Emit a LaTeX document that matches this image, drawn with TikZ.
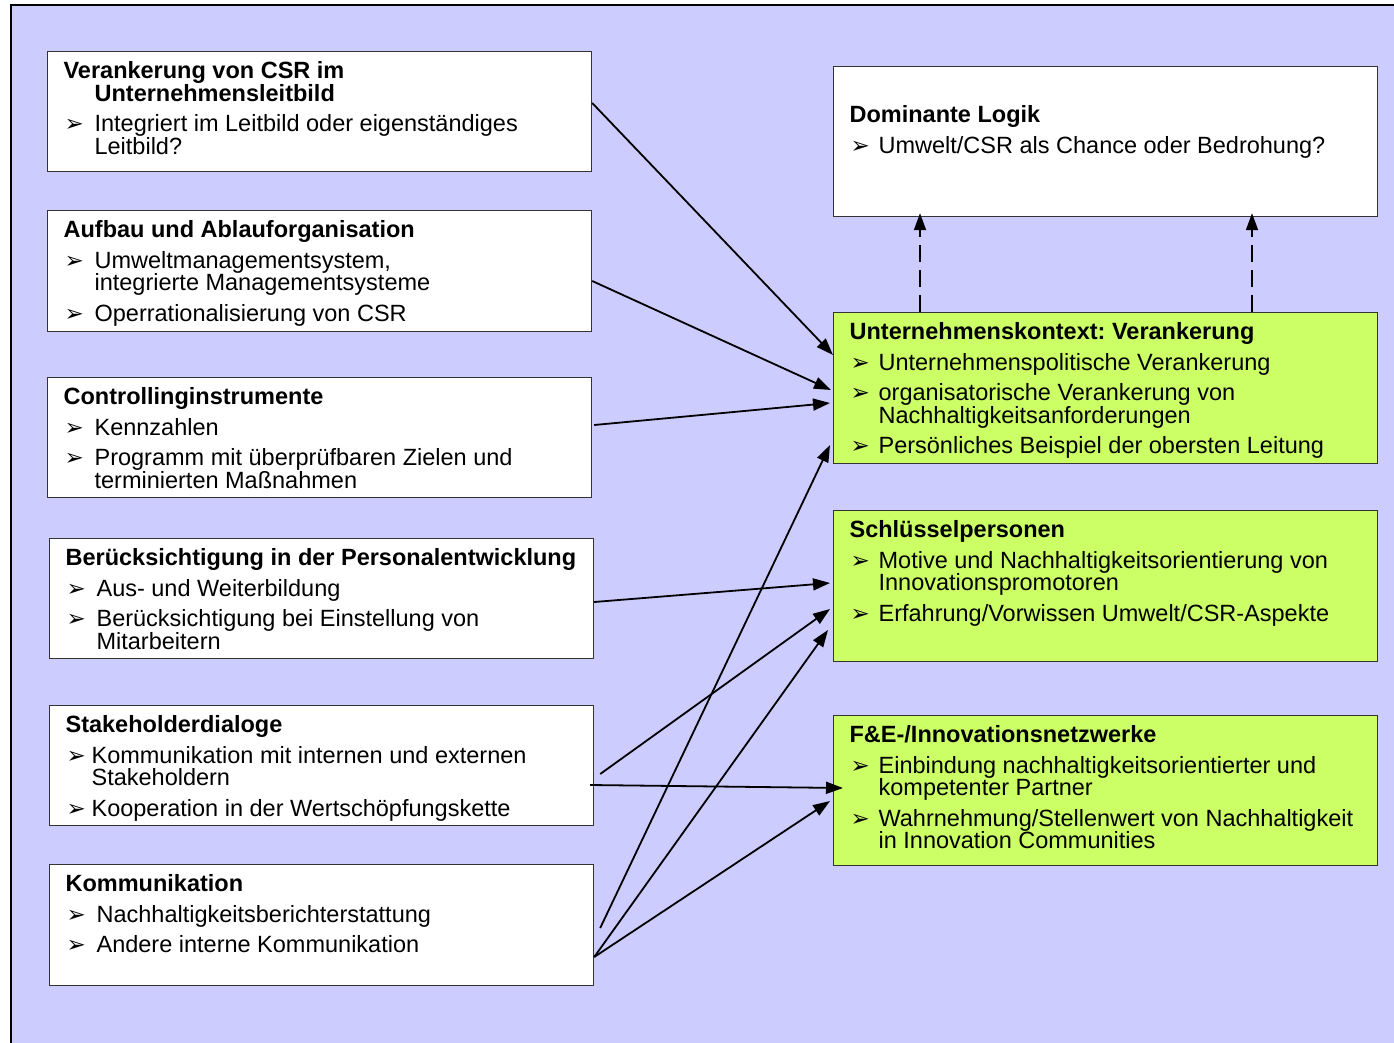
\documentclass[tikz,border=0pt]{standalone}
\usepackage{fontspec}
\setmainfont{Liberation Sans}
\newfontfamily\symfont{DejaVu Sans}
\usepackage{xcolor}
\usepackage{tikz}
\usetikzlibrary{arrows.meta}

\definecolor{lavender}{HTML}{CCCCFF}
\definecolor{limegreen}{HTML}{CCFF66}

\newlength{\hang}
\newcommand{\bul}{{\symfont\fontsize{23}{23}\selectfont ➢}}
% box content: [hanging indent]{height}{text}
\newcommand{\boxtext}[3][31pt]{\makebox[512pt][l]{\parbox[c][#2][t]{600pt}{%
    \setlength{\hang}{#1}\fontsize{23.5}{22.5}\selectfont\frenchspacing
    \setlength{\parskip}{8pt}\raggedright #3}}}
\newcommand{\hd}[2][19pt]{\hangindent=\hang\hangafter=1\rule{0pt}{#1}\textbf{#2}\par}
\newcommand{\itm}[1]{\hangindent=\hang\hangafter=1\makebox[\hang][l]{\hspace{1pt}\bul}#1\par}

\begin{document}
\begin{tikzpicture}[x=1pt,y=-1pt,
    leftbox/.style={rectangle, draw=black!80, line width=1.2pt, fill=white, inner xsep=16pt, inner ysep=8pt, anchor=north west},
    rightbox/.style={leftbox, fill=limegreen},
    link/.style={line width=1.8pt, -{Triangle[length=17pt,width=12pt]}},
    dashlink/.style={link, dash pattern=on 17pt off 8pt}]
    \clip (0,0) rectangle (1394,1043);
    \fill[lavender] (11,5) rectangle (1420,1060);
    \draw[line width=2pt] (11,1060) -- (11,5) -- (1420,5);

    % left column
    \node(leitbild) [leftbox] at (47,51) {\boxtext{104pt}{
        \hd{Verankerung von CSR im\newline Unternehmensleitbild}
        \itm{Integriert im Leitbild oder eigenständiges\newline Leitbild?}}};
    \node(aufbau) [leftbox] at (47,210) {\boxtext{105pt}{
        \hd{Aufbau und Ablauforganisation}
        \itm{Umweltmanagementsystem,\newline integrierte Managementsysteme}
        \itm{Operrationalisierung von CSR}}};
    \node(controlling) [leftbox] at (47,377) {\boxtext{104pt}{
        \hd{Controllinginstrumente}
        \itm{Kennzahlen}
        \itm{Programm mit überprüfbaren Zielen und\newline terminierten Maßnahmen}}};
    \node(personal) [leftbox] at (49,538) {\boxtext{104pt}{
        \hd{Berücksichtigung in der Personalentwicklung}
        \itm{Aus- und Weiterbildung}
        \itm{Berücksichtigung bei Einstellung von\newline Mitarbeitern}}};
    \node(stakeholder) [leftbox] at (49,705) {\boxtext[26pt]{104pt}{
        \hd{Stakeholderdialoge}
        \itm{Kommunikation mit internen und externen\newline Stakeholdern}
        \itm{Kooperation in der Wertschöpfungskette}}};
    \node(kommunikation) [leftbox] at (49,864) {\boxtext{105pt}{
        \hd{Kommunikation}
        \itm{Nachhaltigkeitsberichterstattung}
        \itm{Andere interne Kommunikation}}};

    % right column
    \node(logik) [leftbox] at (833,66) {\boxtext[29pt]{134pt}{
        \hd[48pt]{Dominante Logik}
        \itm{Umwelt/CSR als Chance oder Bedrohung?}}};
    \node(kontext) [rightbox] at (833,312) {\boxtext[29pt]{135pt}{
        \hd{Unternehmenskontext: Verankerung}
        \itm{Unternehmenspolitische Verankerung}
        \itm{organisatorische Verankerung von\newline Nachhaltigkeitsanforderungen}
        \itm{Persönliches Beispiel der obersten Leitung}}};
    \node(schluessel) [rightbox] at (833,510) {\boxtext[29pt]{135pt}{
        \hd{Schlüsselpersonen}
        \itm{Motive und Nachhaltigkeitsorientierung von\newline Innovationspromotoren}
        \itm{Erfahrung/Vorwissen Umwelt/CSR-Aspekte}}};
    \node(netzwerk) [rightbox] at (833,715) {\boxtext[29pt]{134pt}{
        \hd{F\&E-/Innovationsnetzwerke}
        \itm{Einbindung nachhaltigkeitsorientierter und\newline kompetenter Partner}
        \itm{Wahrnehmung/Stellenwert von Nachhaltigkeit\newline in Innovation Communities}}};

    % connectors
    \draw[link] ([yshift=-52pt]leitbild.north east) -- ([yshift=-43pt]kontext.north west);
    \draw[link] ([yshift=-71pt]aufbau.north east) -- ([xshift=-2pt,yshift=-78pt]kontext.north west);
    \draw[link] ([xshift=2pt,yshift=-48pt]controlling.north east) -- ([xshift=-3pt,yshift=-91pt]kontext.north west);
    \draw[link] ([yshift=-64pt]personal.north east) -- ([xshift=-3pt,yshift=-73pt]schluessel.north west);
    \draw[link] ([xshift=6pt,yshift=-69pt]stakeholder.north east) -- ([xshift=-3pt,yshift=-99pt]schluessel.north west);
    \draw[link] ([xshift=-4pt,yshift=-80pt]stakeholder.north east) -- ([xshift=10pt,yshift=-73pt]netzwerk.north west);
    \draw[link] ([xshift=6pt,yshift=-64pt]kommunikation.north east) -- ([xshift=-3pt,yshift=-133pt]kontext.north west);
    \draw[link] ([yshift=-93pt]kommunikation.north east) -- ([xshift=-5pt,yshift=-120pt]schluessel.north west);
    \draw[link] ([yshift=-93pt]kommunikation.north east) -- ([xshift=-3pt,yshift=-86pt]netzwerk.north west);
    \draw[dashlink] ([xshift=87pt]kontext.north west) -- ([xshift=87pt,yshift=4pt]logik.south west);
    \draw[dashlink] ([xshift=419pt]kontext.north west) -- ([xshift=419pt,yshift=4pt]logik.south west);
\end{tikzpicture}
\end{document}
